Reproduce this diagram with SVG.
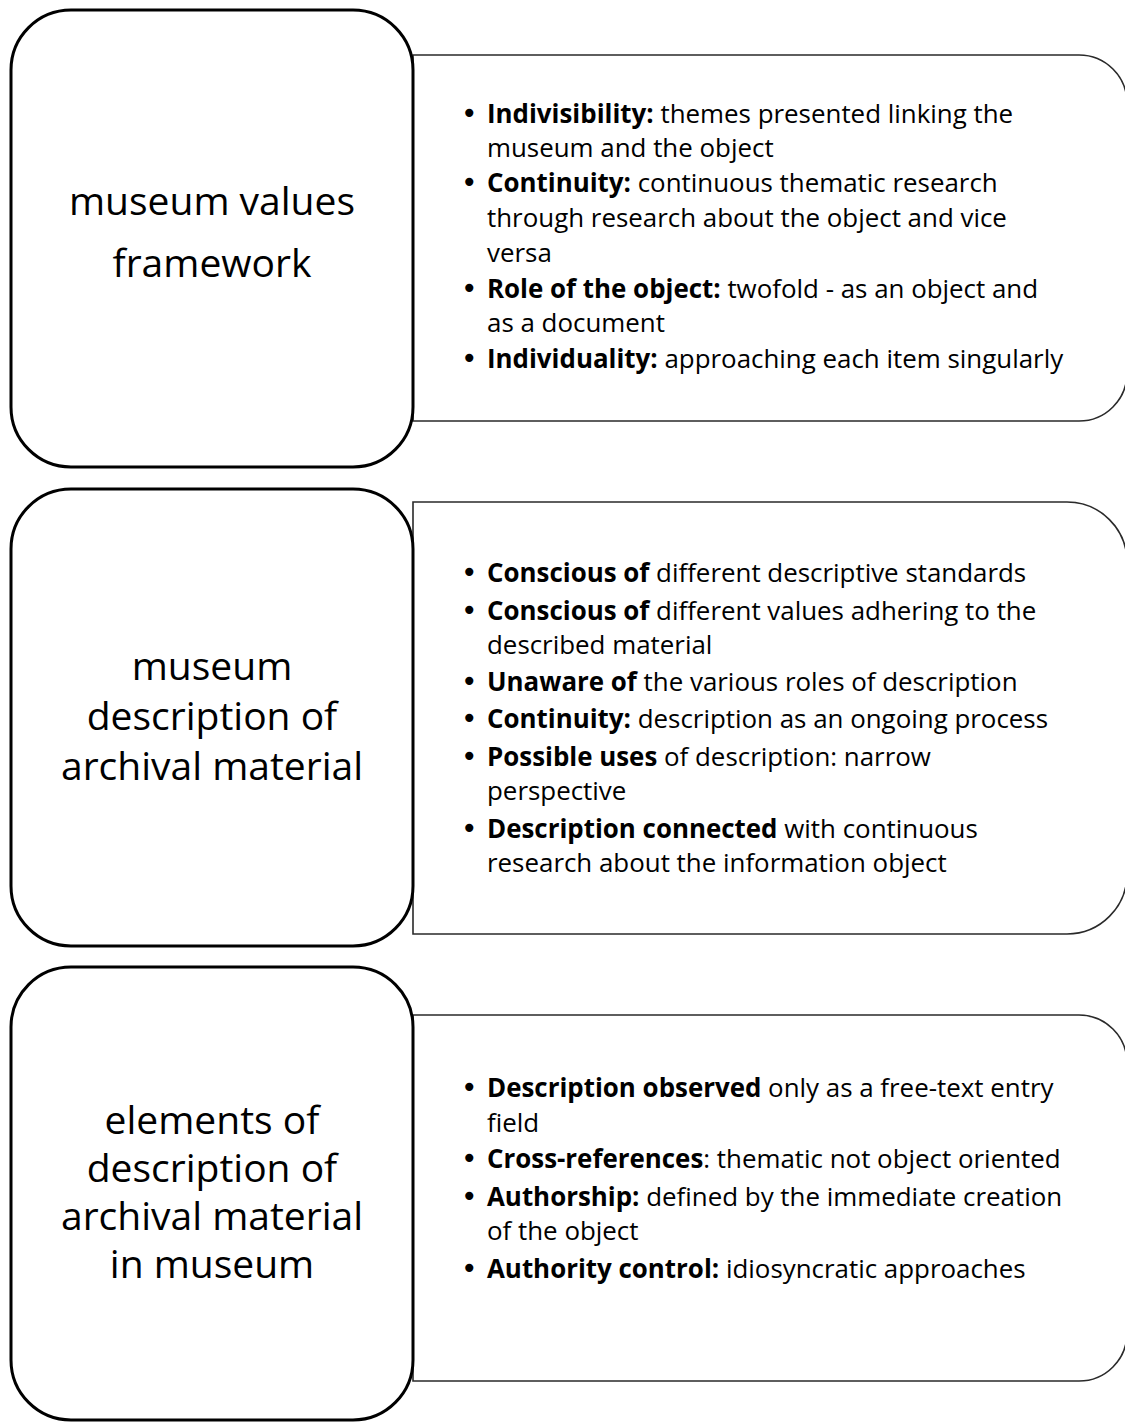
<svg xmlns="http://www.w3.org/2000/svg" width="1125" height="1423" viewBox="0 0 1125 1423">
<style>
.bg{fill:#ffffff}
.title{fill:#ffffff;stroke:#000000;stroke-width:3}
.panel{fill:#ffffff;stroke:#2a2a2a;stroke-width:1.6}
.lt{font-family:"Open Sans","Liberation Sans",sans-serif;font-size:39px;fill:#000000;text-anchor:middle}
.rt{font-family:"Open Sans","Liberation Sans",sans-serif;font-size:25.9px;fill:#000000}
.bu{font-family:"DejaVu Sans","Liberation Sans",sans-serif;font-size:28px;fill:#000000}
.b{font-weight:700}
</style>
<rect class="bg" x="0" y="0" width="1125" height="1423"/>

<g id="panel1">
<path class="panel" d="M413,55 H1079 A48,48 0 0 1 1127,103 V373 A48,48 0 0 1 1079,421 H413 Z"/>
<text class="bu" x="461" y="123">•</text><text class="rt" x="487" y="123"><tspan class="b">Indivisibility:</tspan> themes presented linking the</text>
<text class="rt" x="487" y="157">museum and the object</text>
<text class="bu" x="461" y="192">•</text><text class="rt" x="487" y="192"><tspan class="b">Continuity:</tspan> continuous thematic research</text>
<text class="rt" x="487" y="227">through research about the object and vice</text>
<text class="rt" x="487" y="261.5">versa</text>
<text class="bu" x="461" y="297.5">•</text><text class="rt" x="487" y="297.5"><tspan class="b">Role of the object:</tspan> twofold - as an object and</text>
<text class="rt" x="487" y="332">as a document</text>
<text class="bu" x="461" y="368">•</text><text class="rt" x="487" y="368"><tspan class="b">Individuality:</tspan> approaching each item singularly</text>
</g>

<g id="panel2">
<path class="panel" d="M413,502 H1067 A60,60 0 0 1 1127,562 V874 A60,60 0 0 1 1067,934 H413 Z"/>
<text class="bu" x="461" y="582">•</text><text class="rt" x="487" y="582"><tspan class="b">Conscious of</tspan> different descriptive standards</text>
<text class="bu" x="461" y="619.5">•</text><text class="rt" x="487" y="619.5"><tspan class="b">Conscious of</tspan> different values adhering to the</text>
<text class="rt" x="487" y="654">described material</text>
<text class="bu" x="461" y="691">•</text><text class="rt" x="487" y="691"><tspan class="b">Unaware of</tspan> the various roles of description</text>
<text class="bu" x="461" y="728">•</text><text class="rt" x="487" y="728"><tspan class="b">Continuity:</tspan> description as an ongoing process</text>
<text class="bu" x="461" y="765.5">•</text><text class="rt" x="487" y="765.5"><tspan class="b">Possible uses</tspan> of description: narrow</text>
<text class="rt" x="487" y="800">perspective</text>
<text class="bu" x="461" y="837.5">•</text><text class="rt" x="487" y="837.5"><tspan class="b">Description connected</tspan> with continuous</text>
<text class="rt" x="487" y="872">research about the information object</text>
</g>

<g id="panel3">
<path class="panel" d="M413,1015 H1079 A48,48 0 0 1 1127,1063 V1333 A48,48 0 0 1 1079,1381 H413 Z"/>
<text class="bu" x="461" y="1097">•</text><text class="rt" x="487" y="1097"><tspan class="b">Description observed</tspan> only as a free-text entry</text>
<text class="rt" x="487" y="1131.5">field</text>
<text class="bu" x="461" y="1168">•</text><text class="rt" x="487" y="1168"><tspan class="b">Cross-references</tspan>: thematic not object oriented</text>
<text class="bu" x="461" y="1205.5">•</text><text class="rt" x="487" y="1205.5"><tspan class="b">Authorship:</tspan> defined by the immediate creation</text>
<text class="rt" x="487" y="1240">of the object</text>
<text class="bu" x="461" y="1277.5">•</text><text class="rt" x="487" y="1277.5"><tspan class="b">Authority control:</tspan> idiosyncratic approaches</text>
</g>

<g id="title1">
<rect class="title" x="11" y="10" width="402" height="457" rx="60" ry="60"/>
<text class="lt" x="212" y="215">museum values</text>
<text class="lt" x="212" y="277">framework</text>
</g>

<g id="title2">
<rect class="title" x="11" y="489" width="402" height="457" rx="60" ry="60"/>
<text class="lt" x="212" y="680">museum</text>
<text class="lt" x="212" y="730">description of</text>
<text class="lt" x="212" y="780">archival material</text>
</g>

<g id="title3">
<rect class="title" x="11" y="967" width="402" height="453" rx="60" ry="60"/>
<text class="lt" x="212" y="1134">elements of</text>
<text class="lt" x="212" y="1182">description of</text>
<text class="lt" x="212" y="1230">archival material</text>
<text class="lt" x="212" y="1278">in museum</text>
</g>
</svg>
